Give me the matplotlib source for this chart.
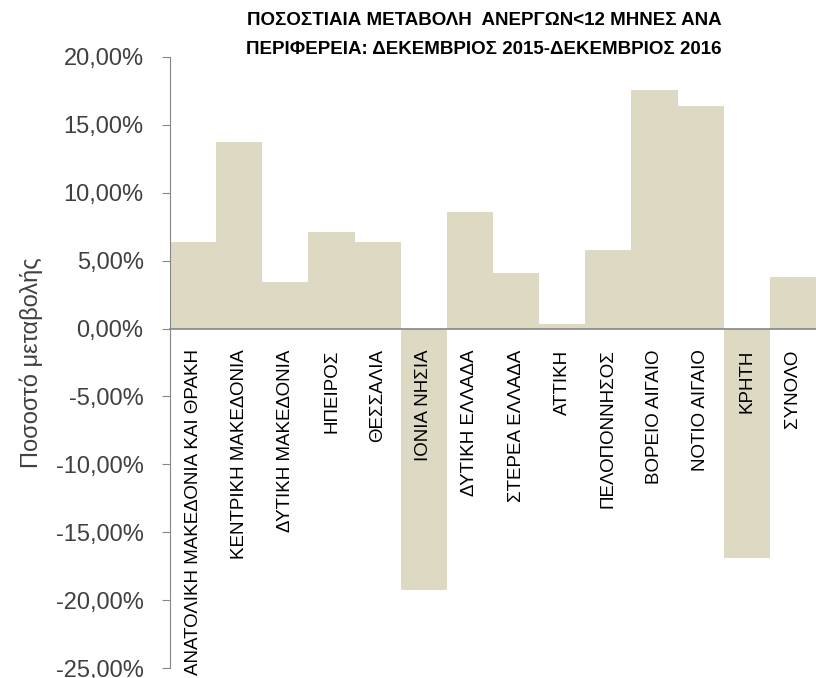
import numpy as np
import matplotlib
matplotlib.use('Agg')
import matplotlib.pyplot as plt
from matplotlib.ticker import FuncFormatter

plt.rcParams['font.family'] = ['Liberation Sans', 'DejaVu Sans']

## Data ##
regions = ['ΑΝΑΤΟΛΙΚΗ ΜΑΚΕΔΟΝΙΑ ΚΑΙ ΘΡΑΚΗ', 'ΚΕΝΤΡΙΚΗ ΜΑΚΕΔΟΝΙΑ', 'ΔΥΤΙΚΗ ΜΑΚΕΔΟΝΙΑ',
           'ΗΠΕΙΡΟΣ', 'ΘΕΣΣΑΛΙΑ', 'ΙΟΝΙΑ ΝΗΣΙΑ', 'ΔΥΤΙΚΗ ΕΛΛΑΔΑ', 'ΣΤΕΡΕΑ ΕΛΛΑΔΑ',
           'ΑΤΤΙΚΗ', 'ΠΕΛΟΠΟΝΝΗΣΟΣ', 'ΒΟΡΕΙΟ ΑΙΓΑΙΟ', 'ΝΟΤΙΟ ΑΙΓΑΙΟ', 'ΚΡΗΤΗ', 'ΣΥΝΟΛΟ']
change_pct = [6.35, 13.73, 3.40, 7.08, 6.40, -19.25, 8.60, 4.10,
              0.35, 5.75, 17.60, 16.40, -16.90, 3.80]
y_ticks = [-25, -20, -15, -10, -5, 0, 5, 10, 15, 20]

title = 'ΠΟΣΟΣΤΙΑΙΑ ΜΕΤΑΒΟΛΗ  ΑΝΕΡΓΩΝ<12 ΜΗΝΕΣ ΑΝΑ\nΠΕΡΙΦΕΡΕΙΑ: ΔΕΚΕΜΒΡΙΟΣ 2015-ΔΕΚΕΜΒΡΙΟΣ 2016'
y_label = 'Ποσοστό μεταβολής'

fig = plt.figure(figsize=(8.16, 6.78), dpi=100)
ax = fig.add_axes([170/816, 1 - 668/678, 646/816, 611/678])

x = np.arange(len(regions))
ax.bar(x, change_pct, width=1.0, color='#ddd9c3', edgecolor='none', zorder=1)

ax.set_xlim(-0.5, len(regions) - 0.5)
ax.set_ylim(-25, 20)
ax.set_yticks(y_ticks)
ax.yaxis.set_major_formatter(FuncFormatter(lambda v, p: ('%.2f%%' % v).replace('.', ',')))

# spines: left axis grey, bottom axis sits on zero
for s in ['top', 'right']:
    ax.spines[s].set_visible(False)
ax.spines['left'].set_color('#868686')
ax.spines['bottom'].set_color('#868686')
ax.spines['bottom'].set_linewidth(1.2)
ax.spines['bottom'].set_position(('data', 0))
ax.spines['bottom'].set_zorder(3)

ax.tick_params(axis='y', direction='out', length=6, color='#868686',
               labelsize=17, labelcolor='#404040', pad=13)
ax.tick_params(axis='x', length=0, pad=15)
ax.set_xticks(x)
ax.set_xticklabels(regions, rotation=90, va='top', ha='center', fontsize=13.5, color='black')

ax.set_ylabel(y_label, fontsize=17, color='#404040', labelpad=9)

fig.text(0.593, 0.983, title, ha='center', va='top', fontsize=13.5, fontweight='bold',
         linespacing=1.95, zorder=5)

fig.savefig('out.png', dpi=100)
